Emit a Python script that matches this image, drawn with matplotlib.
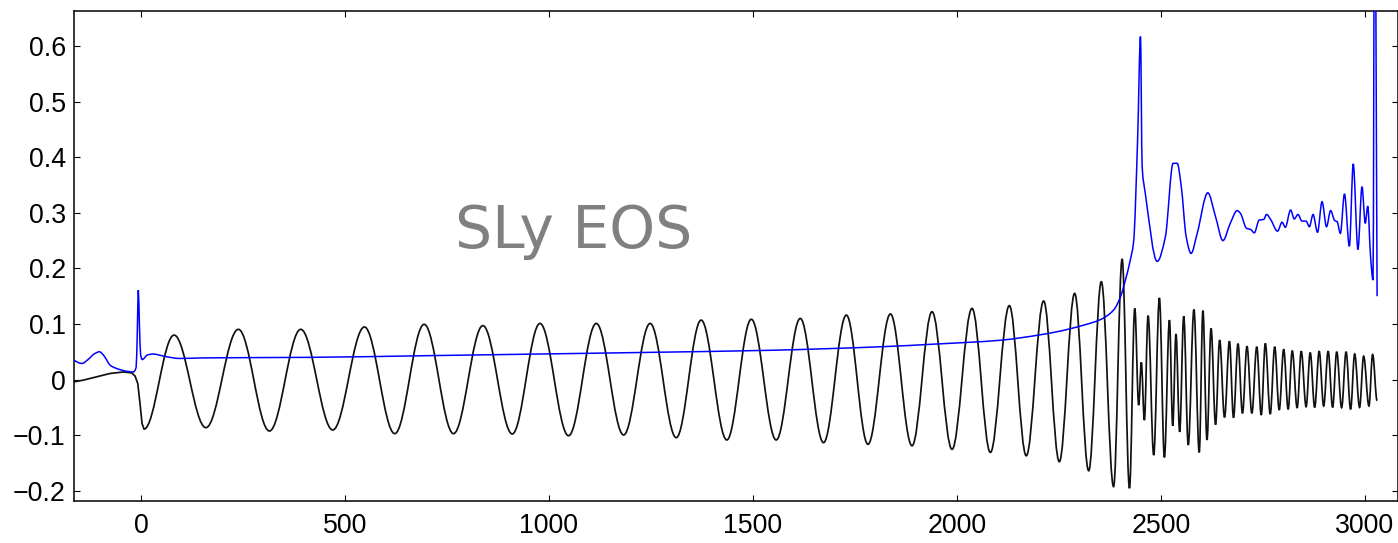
import matplotlib
matplotlib.use("Agg")
import matplotlib.pyplot as plt
from matplotlib.path import Path
from matplotlib.patches import PathPatch

# ---------------- data ----------------
# black waveform: early (pre-burst) samples, drawn as a polyline
pre_t = [-164, -141.5, -108.6, -76, -43, -23, -14.7, -8, -2.5, 2.5, 7.4]
pre_h = [-0.004, -0.001, 0.005, 0.011, 0.0137, 0.012, 0.0065, -0.007, -0.043, -0.079, -0.089]

# black waveform: successive extrema (peaks / troughs) after t = 0
ext_t = [7.4, 81, 159, 238.6, 314.7, 391.5, 470, 547.6, 622, 694, 766, 838, 910, 978,
         1048, 1116, 1183, 1248, 1312, 1373, 1436, 1496, 1557, 1616, 1673, 1729, 1782,
         1837, 1890, 1939, 1988, 2037, 2082, 2128.5, 2170, 2212.6, 2251, 2288.6, 2323,
         2354, 2384, 2405, 2423, 2436, 2445.6, 2452, 2459.5, 2468.6, 2482.4, 2496.3,
         2508.6, 2521, 2529, 2537, 2546, 2556, 2567, 2581, 2594, 2603, 2613, 2623, 2634,
         2644, 2656, 2668, 2678, 2689, 2700, 2711, 2723, 2735, 2746, 2756, 2768, 2779,
         2790, 2801, 2812, 2822, 2834, 2844, 2856, 2866, 2877, 2888, 2899, 2910, 2921,
         2931, 2943, 2954, 2965, 2975, 2987, 2997, 3010, 3019, 3030]
ext_h = [-0.089, 0.080, -0.0865, 0.0904, -0.0925, 0.0904, -0.0906, 0.0946, -0.0972,
         0.0994, -0.0972, 0.097, -0.0978, 0.101, -0.101, 0.101, -0.0996, 0.101, -0.1045,
         0.107, -0.1086, 0.1085, -0.1086, 0.110, -0.1134, 0.116, -0.1164, 0.118, -0.119,
         0.122, -0.1254, 0.128, -0.131, 0.133, -0.137, 0.1414, -0.1477, 0.155, -0.164,
         0.176, -0.1926, 0.217, -0.1955, 0.128, -0.046, 0.031, -0.073, 0.115, -0.136,
         0.147, -0.140, 0.107, -0.083, 0.082, -0.094, 0.114, -0.1176, 0.126, -0.131,
         0.124, -0.1086, 0.092, -0.081, 0.071, -0.068, 0.069, -0.0685, 0.0646, -0.0606,
         0.060, -0.0606, 0.059, -0.0637, 0.065, -0.062, 0.059, -0.0547, 0.0545, -0.0535,
         0.052, -0.051, 0.051, -0.0487, 0.0485, -0.050, 0.051, -0.0475, 0.051, -0.050,
         0.050, -0.0505, 0.050, -0.0535, 0.046, -0.050, 0.042, -0.0475, 0.045, -0.038]

# blue curve (key points)
blue_t = [-164, -155, -145, -130, -115, -102, -92, -84, -76, -60, -35, -19, -12, -9,
          -6.6, -4, -1, 3, 5.7, 15, 30, 45, 63, 96, 153, 414, 700, 978, 1250, 1542,
          1812, 1950, 2106, 2164, 2245, 2311, 2352, 2384, 2401, 2413, 2425, 2433, 2443,
          2450, 2454, 2462, 2491, 2511, 2530, 2540, 2550, 2562, 2574, 2589, 2615,
          2634, 2652, 2670, 2687, 2695, 2710, 2720, 2729, 2741, 2752, 2759, 2769, 2786,
          2797, 2805, 2818, 2827, 2836, 2846, 2856, 2864, 2873, 2884, 2895, 2906, 2916,
          2926, 2932, 2940, 2950, 2962, 2971.5, 2983, 2993, 3001, 3007, 3014, 3020,
          3024, 3030]
blue_h = [0.035, 0.031, 0.029, 0.036, 0.046, 0.050, 0.044, 0.035, 0.026, 0.020, 0.015,
          0.0137, 0.022, 0.09, 0.161, 0.10, 0.045, 0.036, 0.037, 0.044, 0.046, 0.044,
          0.041, 0.038, 0.039, 0.040, 0.043, 0.046, 0.049, 0.0527, 0.059, 0.064, 0.0707,
          0.076, 0.086, 0.098, 0.108, 0.125, 0.149, 0.179, 0.215, 0.247, 0.434, 0.617,
          0.384, 0.334, 0.2126, 0.257, 0.389, 0.389, 0.347, 0.257, 0.227, 0.263,
          0.336, 0.293, 0.250, 0.281, 0.304, 0.299, 0.272, 0.270, 0.264, 0.287, 0.288,
          0.297, 0.288, 0.267, 0.283, 0.274, 0.305, 0.289, 0.297, 0.285, 0.285, 0.275,
          0.297, 0.265, 0.320, 0.275, 0.304, 0.286, 0.284, 0.263, 0.334, 0.240, 0.388,
          0.234, 0.347, 0.281, 0.312, 0.221, 0.179, 1.0, 0.150]

x_ticks = [0, 500, 1000, 1500, 2000, 2500, 3000]
x_labels = ["0", "500", "1000", "1500", "2000", "2500", "3000"]
y_ticks = [-0.2, -0.1, 0, 0.1, 0.2, 0.3, 0.4, 0.5, 0.6]
y_labels = ["\u22120.2", "\u22120.1", "0", "0.1", "0.2", "0.3", "0.4", "0.5", "0.6"]
annotation = "SLy EOS"


# ---------------- helpers: smooth Bezier rendering through given points ----------------
def monotone_slopes(t, h):
    n = len(t)
    d = [(h[i + 1] - h[i]) / (t[i + 1] - t[i]) for i in range(n - 1)]
    m = [0.0] * n
    m[0], m[-1] = d[0], d[-1]
    for i in range(1, n - 1):
        if d[i - 1] * d[i] <= 0:
            m[i] = 0.0
        else:
            w1 = 2 * (t[i + 1] - t[i]) + (t[i] - t[i - 1])
            w2 = (t[i + 1] - t[i]) + 2 * (t[i] - t[i - 1])
            m[i] = (w1 + w2) / (w1 / d[i - 1] + w2 / d[i])
    return m


def smooth_path(t, h):
    m = monotone_slopes(t, h)
    verts = [(t[0], h[0])]
    codes = [Path.MOVETO]
    for i in range(len(t) - 1):
        dt = t[i + 1] - t[i]
        verts += [(t[i] + dt / 3, h[i] + m[i] * dt / 3),
                  (t[i + 1] - dt / 3, h[i + 1] - m[i + 1] * dt / 3),
                  (t[i + 1], h[i + 1])]
        codes += [Path.CURVE4] * 3
    return Path(verts, codes)


def wave_path(pt, ph, et, eh, k=0.364):
    verts = [(pt[0], ph[0])]
    codes = [Path.MOVETO]
    for t, h in zip(pt[1:], ph[1:]):
        verts.append((t, h))
        codes.append(Path.LINETO)
    for i in range(len(et) - 1):
        t0, h0, t1, h1 = et[i], eh[i], et[i + 1], eh[i + 1]
        dt = t1 - t0
        verts += [(t0 + k * dt, h0), (t1 - k * dt, h1), (t1, h1)]
        codes += [Path.CURVE4] * 3
    return Path(verts, codes)


# ---------------- drawing ----------------
plt.rcParams["font.family"] = ["Liberation Sans", "DejaVu Sans"]

fig = plt.figure(figsize=(13.98, 5.43), dpi=100)
ax = fig.add_axes([74 / 1398, 1 - 500.5 / 543, 1323.5 / 1398, 489.5 / 543])

ax.add_patch(PathPatch(wave_path(pre_t, pre_h, ext_t, ext_h), facecolor="none",
                       edgecolor="#111111", lw=1.25, zorder=2))
ax.add_patch(PathPatch(smooth_path(blue_t, blue_h), facecolor="none",
                       edgecolor="#0000ff", lw=1.1, zorder=3))

ax.text(770, 0.237, annotation, color="#808080", fontsize=42,
        family=["DejaVu Sans"], ha="left", va="baseline")

ax.set_xlim(-164.3, 3080)
ax.set_ylim(-0.2175, 0.663)
ax.set_xticks(x_ticks)
ax.set_xticklabels(x_labels)
ax.set_yticks(y_ticks)
ax.set_yticklabels(y_labels)
ax.tick_params(direction="in", top=True, right=True, length=4.5, width=0.8,
               labelsize=19.3, colors="black")
ax.tick_params(axis="x", pad=9)
ax.tick_params(axis="y", pad=6)
for s in ax.spines.values():
    s.set_linewidth(1.1)

fig.savefig("out.png", dpi=100)
